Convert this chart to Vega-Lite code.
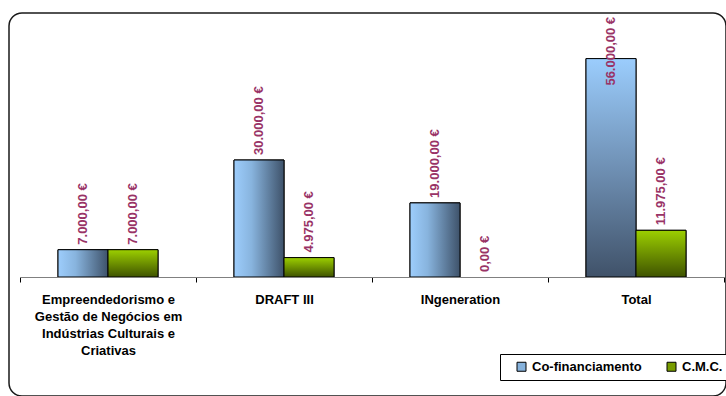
{
  "$schema": "https://vega.github.io/schema/vega-lite/v6.json",
  "width": 717,
  "height": 383,
  "autosize": {"type": "none"},
  "padding": {"left": 9, "top": 13, "right": 0, "bottom": 0},
  "background": "white",
  "config": {
    "font": "Liberation Sans",
    "locale": {"number": {"decimal": ",", "thousands": ".", "grouping": [3], "currency": ["", " €"]}},
    "view": {"stroke": "#1a1a1a", "strokeWidth": 1.5, "cornerRadius": 13, "fill": "white"}
  },
  "data": {
    "values": [
      {"cat": "Empreendedorismo e Gestão de Negócios em Indústrias Culturais e Criativas", "series": "Co-financiamento", "value": 7000},
      {"cat": "Empreendedorismo e Gestão de Negócios em Indústrias Culturais e Criativas", "series": "C.M.C.", "value": 7000},
      {"cat": "DRAFT III", "series": "Co-financiamento", "value": 30000},
      {"cat": "DRAFT III", "series": "C.M.C.", "value": 4975},
      {"cat": "INgeneration", "series": "Co-financiamento", "value": 19000},
      {"cat": "INgeneration", "series": "C.M.C.", "value": 0},
      {"cat": "Total", "series": "Co-financiamento", "value": 56000},
      {"cat": "Total", "series": "C.M.C.", "value": 11975}
    ]
  },
  "encoding": {
    "x": {
      "field": "cat",
      "type": "nominal",
      "sort": null,
      "scale": {
        "domain": ["Empreendedorismo e Gestão de Negócios em Indústrias Culturais e Criativas", "DRAFT III", "INgeneration", "Total"],
        "range": [11, 715],
        "paddingInner": 0,
        "paddingOuter": 0
      },
      "axis": {
        "title": null,
        "labelAngle": 0,
        "labelFontSize": 13,
        "labelFontWeight": "bold",
        "labelColor": "#000",
        "labelLineHeight": 17,
        "labelPadding": 11,
        "labelLimit": 400,
        "tickBand": "extent",
        "tickSize": 5,
        "tickColor": "#000",
        "domainColor": "#808080",
        "grid": false,
        "offset": -119,
        "labelExpr": "indexof(datum.label, 'Empreendedorismo') == 0 ? ['Empreendedorismo e', 'Gestão de Negócios em', 'Indústrias Culturais e', 'Criativas'] : datum.label"
      }
    },
    "y": {
      "field": "value",
      "type": "quantitative",
      "scale": {"domain": [0, 60000], "range": [264, 30], "nice": false, "zero": true},
      "axis": null
    }
  },
  "layer": [
    {
      "data": {"values": [{}]},
      "mark": {
        "type": "rect",
        "fill": {"gradient": "linear", "x1": 0, "y1": 0, "x2": 0, "y2": 1, "stops": [{"offset": 0, "color": "#bfbfbf"}, {"offset": 1, "color": "#ededed"}]},
        "stroke": "#8c8c8c",
        "strokeWidth": 1.2
      },
      "encoding": {
        "x": {"datum": "Empreendedorismo e Gestão de Negócios em Indústrias Culturais e Criativas", "bandPosition": 0},
        "x2": {"datum": "Total", "bandPosition": 1},
        "y": {"datum": 0},
        "y2": {"datum": 60000}
      }
    },
    {
      "transform": [{"filter": "datum.value > 0"}],
      "mark": {"type": "bar", "stroke": "#000", "strokeWidth": 1},
      "encoding": {
        "xOffset": {"field": "series", "type": "nominal", "sort": null, "scale": {"domain": ["Co-financiamento", "C.M.C."], "paddingInner": 0, "paddingOuter": 0.76}},
        "color": {
          "field": "series",
          "type": "nominal",
          "scale": {"domain": ["Co-financiamento", "C.M.C."], "range": ["#86b2dc", "#789c00"]},
          "legend": {
            "orient": "none",
            "legendX": 491,
            "legendY": 341,
            "direction": "horizontal",
            "title": null,
            "strokeColor": "#000",
            "fillColor": "#fff",
            "padding": 6,
            "cornerRadius": 0,
            "symbolType": "square",
            "symbolSize": 81,
            "symbolStrokeColor": "#000",
            "symbolStrokeWidth": 1,
            "symbolOffset": 9,
            "labelOffset": 4,
            "labelFontSize": 13,
            "labelFontWeight": "bold",
            "labelColor": "#000",
            "columnPadding": 14
          }
        }
      }
    },
    {
      "transform": [{"filter": "datum.series == 'Co-financiamento' && datum.cat != 'Total'"}],
      "mark": {
        "type": "bar",
        "stroke": "#000",
        "strokeWidth": 1,
        "fill": {"gradient": "linear", "x1": 0, "y1": 0, "x2": 1, "y2": 0, "stops": [{"offset": 0, "color": "#9dcdfc"}, {"offset": 0.35, "color": "#88b4de"}, {"offset": 1, "color": "#3e526a"}]}
      },
      "encoding": {
        "xOffset": {"field": "series", "type": "nominal", "sort": null, "scale": {"domain": ["Co-financiamento", "C.M.C."], "paddingInner": 0, "paddingOuter": 0.76}}
      }
    },
    {
      "transform": [{"filter": "datum.series == 'Co-financiamento' && datum.cat == 'Total'"}],
      "mark": {
        "type": "bar",
        "stroke": "#000",
        "strokeWidth": 1,
        "fill": {"gradient": "linear", "x1": 0, "y1": 0, "x2": 0, "y2": 1, "stops": [{"offset": 0, "color": "#9bcdfd"}, {"offset": 0.5, "color": "#6f90b4"}, {"offset": 1, "color": "#405269"}]}
      },
      "encoding": {
        "xOffset": {"field": "series", "type": "nominal", "sort": null, "scale": {"domain": ["Co-financiamento", "C.M.C."], "paddingInner": 0, "paddingOuter": 0.76}}
      }
    },
    {
      "transform": [{"filter": "datum.series == 'C.M.C.' && datum.value > 0"}],
      "mark": {
        "type": "bar",
        "stroke": "#000",
        "strokeWidth": 1,
        "fill": {"gradient": "linear", "x1": 0, "y1": 0, "x2": 0, "y2": 1, "stops": [{"offset": 0, "color": "#9ccf00"}, {"offset": 1, "color": "#3f5300"}]}
      },
      "encoding": {
        "xOffset": {"field": "series", "type": "nominal", "sort": null, "scale": {"domain": ["Co-financiamento", "C.M.C."], "paddingInner": 0, "paddingOuter": 0.76}}
      }
    },
    {
      "mark": {
        "type": "text",
        "angle": 270,
        "align": "left",
        "baseline": "middle",
        "dx": {"expr": "datum.value > 50000 ? -27 : 5"},
        "fontSize": 13,
        "fontWeight": "bold",
        "fill": "#993366"
      },
      "encoding": {
        "xOffset": {"field": "series", "type": "nominal", "sort": null, "scale": {"domain": ["Co-financiamento", "C.M.C."], "paddingInner": 0, "paddingOuter": 0.76}},
        "text": {"field": "value", "type": "quantitative", "format": "$,.2f"}
      }
    }
  ]
}
